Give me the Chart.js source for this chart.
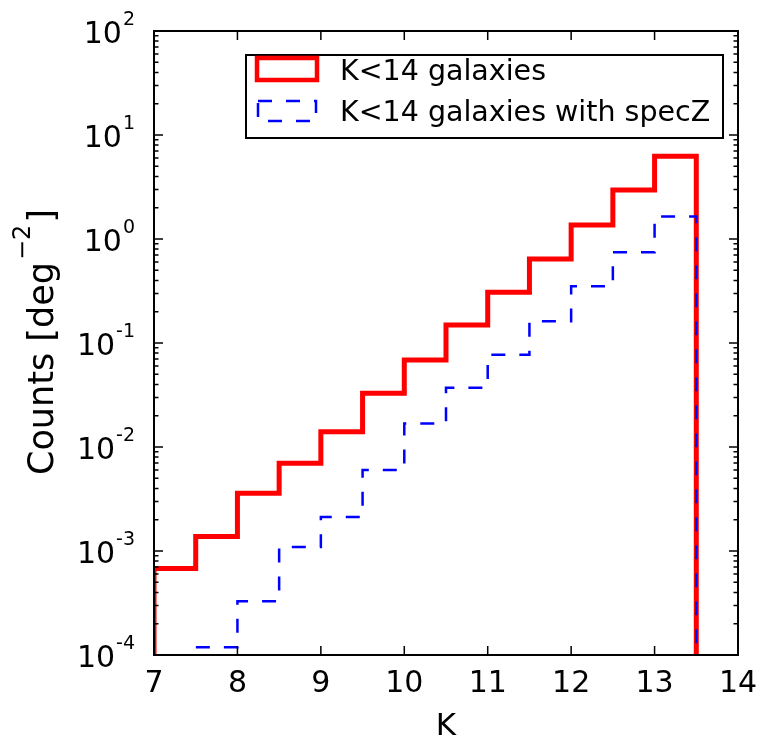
<!DOCTYPE html>
<html>
<head>
<meta charset="utf-8">
<script src="https://cdn.jsdelivr.net/npm/chart.js@4.4.0/dist/chart.umd.min.js"></script>
<style>
    html, body { margin: 0; padding: 0; background: #ffffff; }
    #wrap { width: 762px; height: 738px; }
</style>
</head>
<body>
<div id="wrap"><canvas id="hist-chart" width="762" height="738"></canvas></div>
<script>
// left edges of the K magnitude bins, each bin is 0.5 mag wide
var binLeft = [7, 7.5, 8, 8.5, 9, 9.5, 10, 10.5, 11, 11.5, 12, 12.5, 13];
var binWidth = 0.5;

// counts per deg^2 (null = empty bin)
var allCounts = [6.8e-4, 1.38e-3, 3.6e-3, 6.97e-3, 0.0140, 0.0328, 0.0687, 0.149, 0.307, 0.643, 1.36, 2.96, 6.24];
var specZCounts = [null, 1.19e-4, 3.28e-4, 1.09e-3, 2.12e-3, 6.0e-3, 0.0168, 0.0372, 0.0773, 0.162, 0.351, 0.745, 1.65];

var seriesNames = ['K<14 galaxies', 'K<14 galaxies with specZ'];

// axis ticks
var xTicks = [7, 8, 9, 10, 11, 12, 13, 14];
var yTickExps = [-4, -3, -2, -1, 0, 1, 2];

var xMin = 7, xMax = 14;
var yMin = 1e-4, yMax = 1e2;

// outline of a step histogram, closed down to below the axis
function stepOutline(counts) {
    var floor = yMin / 10;
    var pts = [];
    var last = -1;
    for (var i = 0; i < counts.length; i++) {
        if (counts[i] === null) continue;
        if (last < 0) pts.push({ x: binLeft[i], y: floor });
        pts.push({ x: binLeft[i], y: counts[i] });
        last = i;
    }
    var edge = binLeft[last] + binWidth;
    pts.push({ x: edge, y: counts[last] });
    pts.push({ x: edge, y: floor });
    return pts;
}

var font = '"DejaVu Sans", Verdana, sans-serif';

var framePlugin = {
    id: 'frame',
    afterDraw: function (chart) {
        var ctx = chart.ctx;
        var a = chart.chartArea;
        var xs = chart.scales.x;
        var ys = chart.scales.y;

        ctx.save();

        // tick marks pointing inwards on all four sides
        ctx.strokeStyle = '#000000';
        ctx.lineWidth = 1.5;
        ctx.beginPath();
        xTicks.forEach(function (v) {
            var px = xs.getPixelForValue(v);
            ctx.moveTo(px, a.bottom); ctx.lineTo(px, a.bottom - 9);
            ctx.moveTo(px, a.top); ctx.lineTo(px, a.top + 9);
        });
        yTickExps.forEach(function (e, k) {
            var py = ys.getPixelForValue(Math.pow(10, e));
            ctx.moveTo(a.left, py); ctx.lineTo(a.left + 9, py);
            ctx.moveTo(a.right, py); ctx.lineTo(a.right - 9, py);
            if (k === yTickExps.length - 1) return;
            for (var m = 2; m <= 9; m++) {
                var pm = ys.getPixelForValue(m * Math.pow(10, e));
                ctx.moveTo(a.left, pm); ctx.lineTo(a.left + 4.5, pm);
                ctx.moveTo(a.right, pm); ctx.lineTo(a.right - 4.5, pm);
            }
        });
        ctx.stroke();

        // plot frame
        ctx.lineWidth = 2;
        ctx.strokeRect(a.left, a.top, a.right - a.left, a.bottom - a.top);

        // x tick labels
        ctx.fillStyle = '#000000';
        ctx.font = '30px ' + font;
        ctx.textAlign = 'center';
        ctx.textBaseline = 'alphabetic';
        xTicks.forEach(function (v) {
            ctx.fillText(String(v), xs.getPixelForValue(v), a.bottom + 37);
        });

        // y tick labels as 10^n
        var right = a.left - 19;
        yTickExps.forEach(function (e) {
            var py = ys.getPixelForValue(Math.pow(10, e));
            var expText = String(e);
            ctx.font = '19px ' + font;
            var wE = ctx.measureText(expText).width;
            ctx.textAlign = 'left';
            ctx.fillText(expText, right - wE, py - 6);
            ctx.font = '30px ' + font;
            ctx.textAlign = 'right';
            ctx.fillText('10', right - wE - 1, py + 12);
        });

        // x axis title
        ctx.font = '31px ' + font;
        ctx.textAlign = 'center';
        ctx.fillText('K', (a.left + a.right) / 2, 735);

        // y axis title, rotated, with a superscript
        var partA = 'Counts [deg', partB = '\u22122', partC = ']';
        ctx.font = '35px ' + font;
        var wA = ctx.measureText(partA).width + 2;
        var wC = ctx.measureText(partC).width;
        ctx.font = '24px ' + font;
        var wB = ctx.measureText(partB).width + 2;
        ctx.translate(53, 475);
        ctx.rotate(-Math.PI / 2);
        ctx.textAlign = 'left';
        ctx.font = '35px ' + font;
        ctx.fillText(partA, 0, 0);
        ctx.font = '24px ' + font;
        ctx.fillText(partB, wA, -23);
        ctx.font = '35px ' + font;
        ctx.fillText(partC, wA + wB, 0);
        ctx.setTransform(1, 0, 0, 1, 0, 0);

        // legend box in the upper part of the plot
        var ds = chart.data.datasets;
        ctx.fillStyle = '#ffffff';
        ctx.fillRect(246, 55, 477, 83);
        ctx.strokeStyle = '#000000';
        ctx.lineWidth = 2;
        ctx.strokeRect(246, 55, 477, 83);

        ctx.lineJoin = 'miter';
        ctx.strokeStyle = ds[0].borderColor;
        ctx.lineWidth = 4.5;
        ctx.setLineDash([]);
        ctx.strokeRect(257, 58, 60, 22);

        ctx.strokeStyle = ds[1].borderColor;
        ctx.lineWidth = ds[1].borderWidth;
        ctx.setLineDash(ds[1].borderDash);
        ctx.strokeRect(258, 101, 58, 20);
        ctx.setLineDash([]);

        ctx.fillStyle = '#000000';
        ctx.font = '28.5px ' + font;
        ctx.textAlign = 'left';
        ctx.fillText(ds[0].label, 340, 80);
        ctx.fillText(ds[1].label, 340, 121);

        ctx.restore();
    }
};

var ctx = document.getElementById('hist-chart').getContext('2d');

var histChart = new Chart(ctx, {
    type: 'line',
    data: {
        datasets: [
            {
                label: seriesNames[0],
                data: stepOutline(allCounts),
                borderColor: '#ff0000',
                borderWidth: 5,
                stepped: 'before',
                pointRadius: 0,
                fill: false,
                clip: 0,
                borderJoinStyle: 'miter',
                order: 1
            },
            {
                label: seriesNames[1],
                data: stepOutline(specZCounts),
                borderColor: '#0000ff',
                borderWidth: 2.5,
                borderDash: [14, 14],
                stepped: 'before',
                pointRadius: 0,
                fill: false,
                clip: 0,
                borderJoinStyle: 'miter',
                order: 0
            }
        ]
    },
    options: {
        responsive: false,
        animation: false,
        devicePixelRatio: 1,
        layout: {
            padding: { left: 154, right: 24, top: 31, bottom: 83 }
        },
        plugins: {
            legend: { display: false },
            tooltip: { enabled: false }
        },
        scales: {
            x: { type: 'linear', min: xMin, max: xMax, display: false },
            y: { type: 'logarithmic', min: yMin, max: yMax, display: false }
        }
    },
    plugins: [framePlugin]
});
</script>
</body>
</html>
